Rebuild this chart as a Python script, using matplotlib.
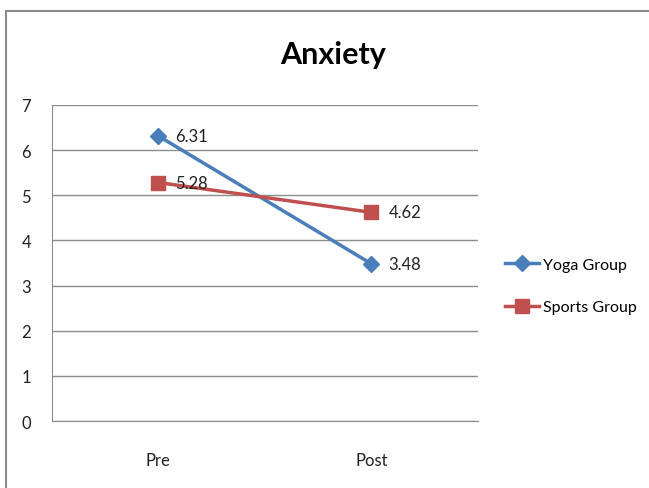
import matplotlib.pyplot as plt
import matplotlib.patches as mpatches

plt.rcParams['font.family'] = ['Lato', 'DejaVu Sans']

categories = ['Pre', 'Post']
yoga = [6.31, 3.48]
sports = [5.28, 4.62]

fig = plt.figure(figsize=(6.49, 4.89), dpi=100)
ax = fig.add_axes([0.080, 0.137, 0.6565, 0.6465])

# outer chart border (cropped at right/bottom like the original)
border = mpatches.Rectangle((6/649, -0.1), 1.2, 1 - 12/489 + 0.1, transform=fig.transFigure,
                            fill=False, edgecolor='#8a8a8a', lw=1.5, zorder=0)
fig.patches.append(border)

x = range(len(categories))
ax.plot(x, yoga, color='#4A7EBB', lw=2.5, marker='D', ms=8, label='Yoga Group', zorder=3)
ax.plot(x, sports, color='#C0504D', lw=2.5, marker='s', ms=10, label='Sports Group', zorder=3)

for i in x:
    ax.text(i + 0.08, yoga[i], '%.2f' % yoga[i], va='center', ha='left', fontsize=12, color='#222222', zorder=4)
    ax.text(i + 0.08, sports[i], '%.2f' % sports[i], va='center', ha='left', fontsize=12, color='#222222', zorder=4)

ax.set_xlim(-0.5, 1.5)
ax.set_ylim(0, 7)
ax.set_yticks(range(0, 8))
ax.set_xticks(list(x))
ax.set_xticklabels(categories)
ax.tick_params(length=0, labelsize=12, colors='#222222')
ax.tick_params(axis='y', pad=15)
ax.tick_params(axis='x', pad=22)
ax.yaxis.grid(True, color='#8c8c8c', lw=1)
ax.set_axisbelow(True)
for s in ['top', 'right']:
    ax.spines[s].set_visible(False)
for s in ['left', 'bottom']:
    ax.spines[s].set_color('#8c8c8c')

fig.text(333/649, 1 - 55/489, 'Anxiety', ha='center', va='center', fontsize=22, fontweight='bold')

ax.legend(loc='center left', bbox_to_anchor=(1.03, 0.427), frameon=False, fontsize=11.5,
          handlelength=2.1, labelspacing=1.75, handletextpad=0.3)

plt.savefig('out.png', dpi=100)
plt.close()
